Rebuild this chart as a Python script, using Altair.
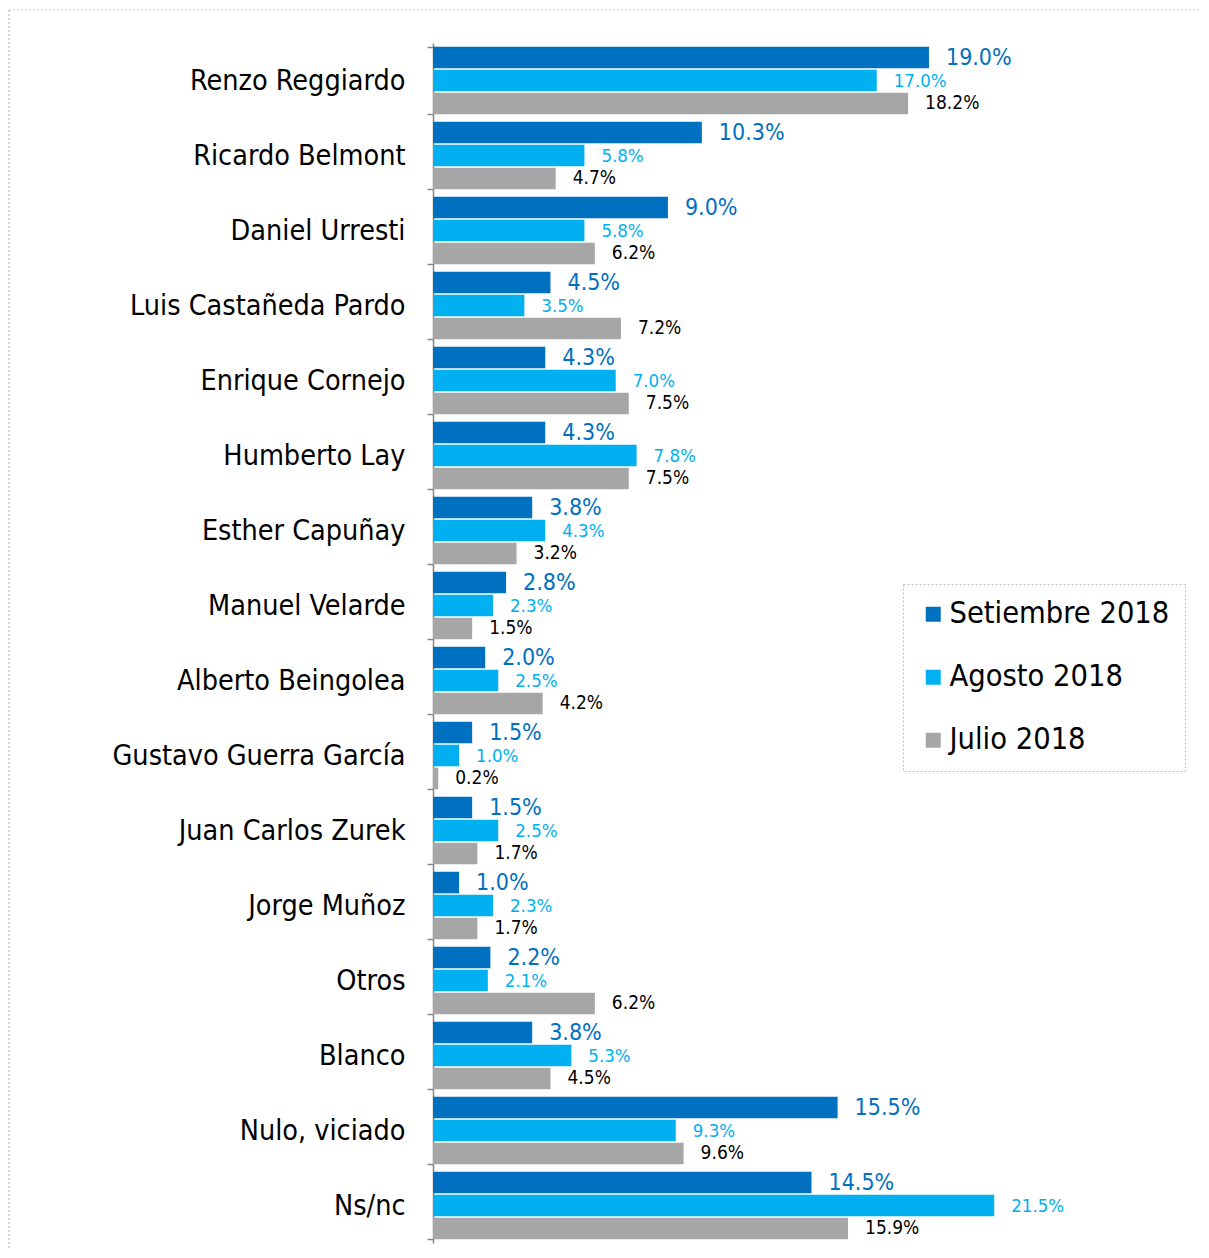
import altair as alt
import pandas as pd

categories = [
    "Renzo Reggiardo", "Ricardo Belmont", "Daniel Urresti", "Luis Castañeda Pardo",
    "Enrique Cornejo", "Humberto Lay", "Esther Capuñay", "Manuel Velarde",
    "Alberto Beingolea", "Gustavo Guerra García", "Juan Carlos Zurek", "Jorge Muñoz",
    "Otros", "Blanco", "Nulo, viciado", "Ns/nc",
]
series = ["Setiembre 2018", "Agosto 2018", "Julio 2018"]
setiembre = [19.0, 10.3, 9.0, 4.5, 4.3, 4.3, 3.8, 2.8, 2.0, 1.5, 1.5, 1.0, 2.2, 3.8, 15.5, 14.5]
agosto = [17.0, 5.8, 5.8, 3.5, 7.0, 7.8, 4.3, 2.3, 2.5, 1.0, 2.5, 2.3, 2.1, 5.3, 9.3, 21.5]
julio = [18.2, 4.7, 6.2, 7.2, 7.5, 7.5, 3.2, 1.5, 4.2, 0.2, 1.7, 1.7, 6.2, 4.5, 9.6, 15.9]

bar_colors = ["#0070C0", "#00B0F0", "#A6A6A6"]
text_colors = ["#0070C0", "#00B0F0", "#000000"]
text_sizes = [23, 18.5, 19]

rows = []
for s, vals in zip(series, [setiembre, agosto, julio]):
    for c, v in zip(categories, vals):
        rows.append({"candidato": c, "serie": s, "valor": v})
df = pd.DataFrame(rows)

FONT = "DejaVu Sans Condensed"
W, H = 757, 1200

y_enc = alt.Y(
    "candidato:N", sort=categories, title=None,
    scale=alt.Scale(paddingInner=0.1, paddingOuter=0.05),
    axis=alt.Axis(
        labelFont=FONT, labelFontSize=28.5, labelColor="#000000", labelPadding=22,
        tickSize=6, tickColor="#868686", domainColor="#868686", domainWidth=1.5,
        tickWidth=1.5, tickBand="extent", labelLimit=400,
    ),
)
yoff = alt.YOffset("serie:N", sort=series, scale=alt.Scale(paddingInner=0.06, paddingOuter=0))
x_enc = alt.X("valor:Q", scale=alt.Scale(domain=[0, 29], nice=False, zero=True), axis=None)

base = alt.Chart(df)

bars = base.mark_bar().encode(
    y=y_enc,
    yOffset=yoff,
    x=x_enc,
    color=alt.Color(
        "serie:N", sort=series,
        scale=alt.Scale(domain=series, range=bar_colors),
        legend=alt.Legend(
            title=None, orient="none", legendX=470, legendY=541,
            labelFont=FONT, labelFontSize=30.5, labelColor="#000000", labelLimit=400,
            symbolType="square", symbolSize=225, symbolStrokeWidth=0,
            rowPadding=32, labelOffset=1, padding=15,
            strokeColor="#BFBFBF",
        ),
    ),
)

labels = base.transform_calculate(
    etiqueta="format(datum.valor, '.1f') + '%'"
).mark_text(align="left", baseline="middle", dx=17, font=FONT).encode(
    y=alt.Y("candidato:N", sort=categories),
    yOffset=alt.YOffset("serie:N", sort=series),
    x=alt.X("valor:Q"),
    text="etiqueta:N",
    color=alt.Color("serie:N", sort=series,
                    scale=alt.Scale(domain=series, range=text_colors), legend=None),
    size=alt.Size("serie:N", sort=series,
                  scale=alt.Scale(type="ordinal", domain=series, range=text_sizes),
                  legend=None),
)

frame = alt.Chart(alt.Data(values=[{"k": 1}])).mark_rect(
    fillOpacity=0, stroke="#BFBFBF", strokeDash=[2, 2], strokeWidth=1.2
).encode(
    x=alt.value(-424), x2=alt.value(900), y=alt.value(-33), y2=alt.value(1400)
)

chart = alt.layer(frame, bars, labels).resolve_scale(
    color="independent"
).properties(
    width=W, height=H,
    autosize=alt.AutoSizeParams(type="none"),
    padding={"left": 425, "top": 35, "right": 11, "bottom": 5},
).configure_view(stroke=None).configure_legend(strokeDash=[2, 2])

chart.save("out.html", embed_options={"renderer": "svg", "actions": False})
